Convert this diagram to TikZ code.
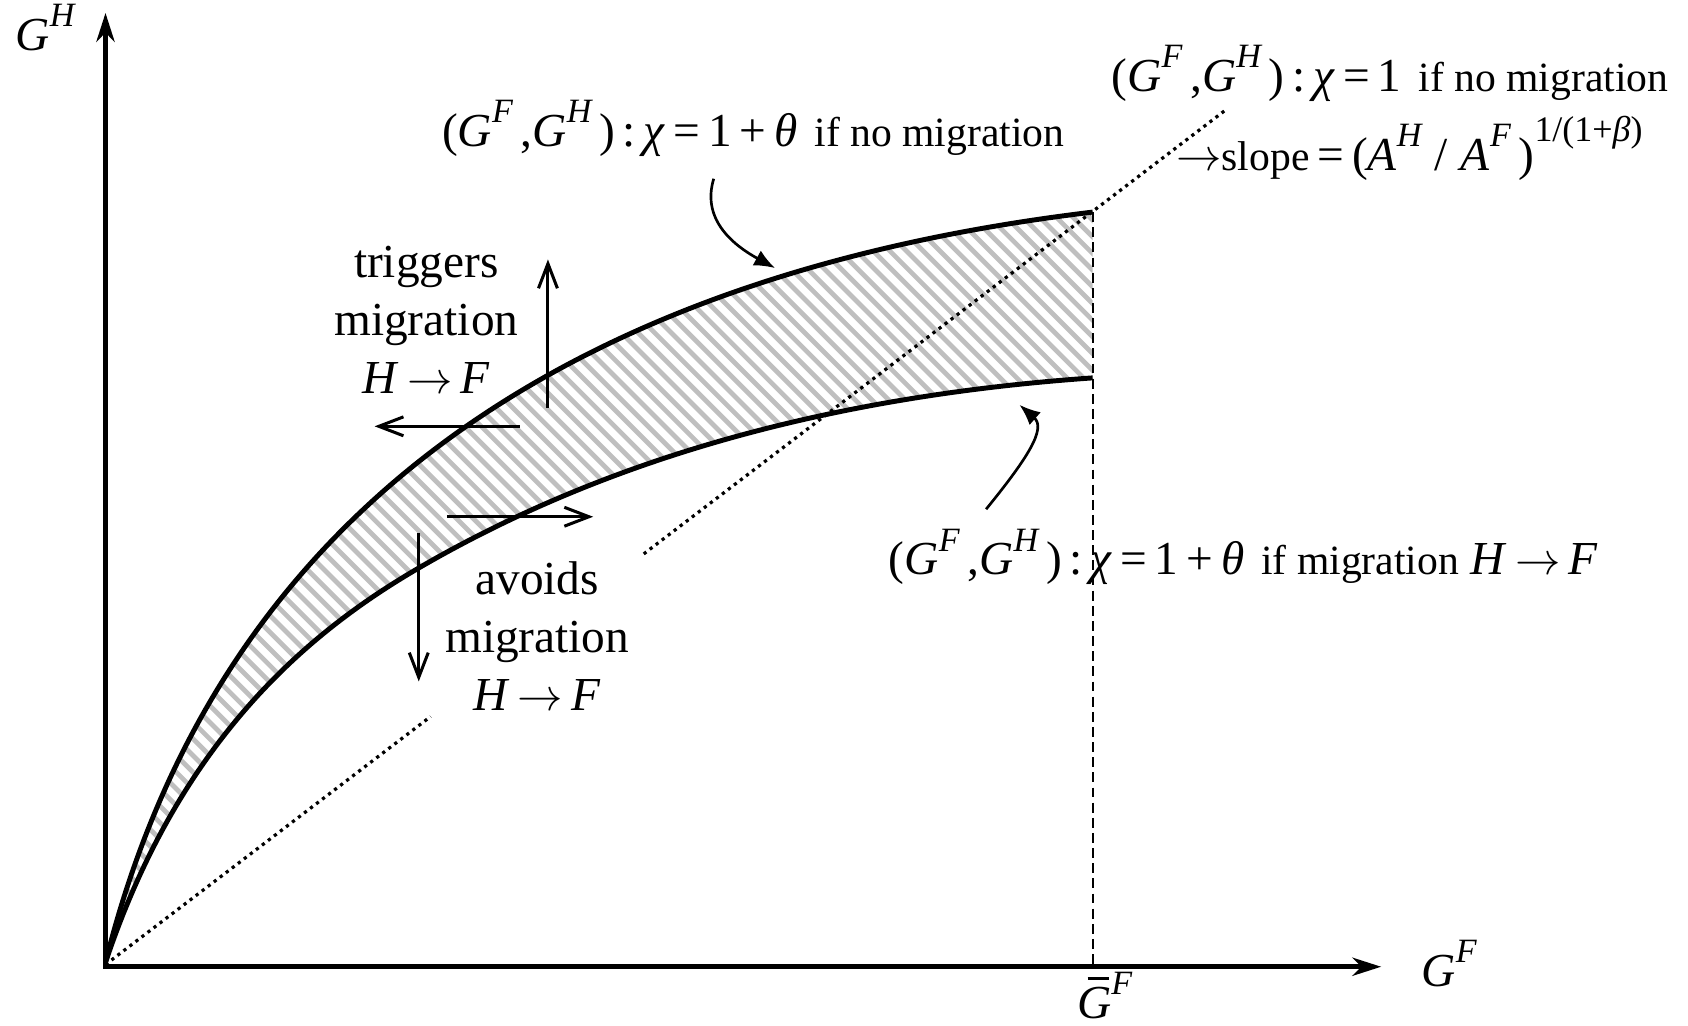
\documentclass[tikz,border=0pt]{standalone}
\usepackage{fontspec}
\setmainfont{Liberation Serif}
\usetikzlibrary{arrows.meta}

% italic symbol and raised italic index
\newcommand{\itl}[1]{\textit{#1}}
\newcommand{\supit}[1]{\raisebox{0.5em}{\fontsize{9}{9}\selectfont\itshape #1}}
\newcommand{\GF}{\itl{G}\supit{F}}
\newcommand{\GH}{\itl{G}\supit{H}}
\newcommand{\Gbar}{\rlap{\hspace{0.22em}\rule[0.82em]{0.45em}{0.065em}}\itl{G}}
\newcommand{\pairGG}{(\GF\,,\GH\,)\,:\,}
\newcommand{\lbltext}[1]{{\fontsize{11}{13}\selectfont #1}}
\newcommand{\toarr}{\,$\rightarrow$\,}

\begin{document}
\begin{tikzpicture}[
  x=0.01cm, y=-0.01cm,
  every node/.style={inner sep=0pt, font=\fontsize{12.5}{15.4}\selectfont},
  axisline/.style={line width=1.25pt, {Stealth[length=7.6pt,width=4.8pt,inset=2.4pt]}-{Stealth[length=7.6pt,width=4.8pt,inset=2.4pt]}},
  bound/.style={line width=1.3pt},
  stripe/.style={line width=1.25pt, black!25},
  hint/.style={line width=0.8pt, -{Straight Barb[length=6.5pt,width=5pt]}},
  callout/.style={line width=0.7pt, -{Latex[length=5.5pt,width=4.5pt]}},
  ray/.style={line width=0.85pt, dash pattern=on 0.85pt off 1.15pt},
  limitline/.style={line width=0.6pt, dash pattern=on 2.6pt off 1.4pt}
]
\useasboundingbox (0,0) rectangle (1568,953);

% Hatched band between the two boundaries
\begin{scope}
  \clip (98,894) .. controls (218,414) and (615,245) .. (1015,197) -- (1015,351)
    .. controls (765,368.5) and (560,428.4) .. (390,527)
    .. controls (290,585) and (168,684) .. (98,894) -- cycle;
  \foreach \k in {-760,-744.5,...,1030}
    \draw[stripe] (\k,150) -- ++(800,800);
\end{scope}

% Ray through the origin (broken at the text)
\draw[ray] (98,896) -- (400,665.6);
\draw[ray] (598,514.5) -- (1140,101);

% Boundaries
\draw[bound] (98,894) .. controls (218,414) and (615,245) .. (1015,197);
\draw[bound] (98,894) .. controls (168,684) and (290,585) .. (390,527)
  .. controls (560,428.4) and (765,368.5) .. (1015,351);
\draw[limitline] (1015,197) -- (1015,898);

% Axes
\draw[axisline] (98,12) -- (98,898) -- (1283,898);
\node[anchor=base west] (ylabel) at (14,47) {\GH};
\node[anchor=base west] (xlabel) at (1320,916) {\GF};
\node[anchor=base west] (gbar) at (1000,946) {\Gbar\supit{F}};

% Labels
\node[anchor=base west] (nomig) at (410,136) {\pairGG\itl{χ}\,=\,1\,+\,\itl{θ}\hspace{4.5pt}\lbltext{if no migration}};
\node[anchor=base west] (nomigone) at (1032,85) {\pairGG\itl{χ}\,=\,1\hspace{4.5pt}\lbltext{if no migration}};
\node[anchor=base west] (slope) at (1092,158) {$\rightarrow$\lbltext{slope}\,=\,(\itl{A}\supit{H}\;/\;\itl{A}\supit{F}\,)\raisebox{0.6em}{\fontsize{9.5}{9.5}\selectfont 1/(1+\itl{β})}};
\node[anchor=base west] (mig) at (825,534) {\pairGG\itl{χ}\,=\,1\,+\,\itl{θ}\hspace{4.5pt}\lbltext{if migration} \itl{H}\toarr\itl{F}};
\node[align=center] (trig) at (396,297) {triggers\\migration\\\itl{H}\toarr\itl{F}};
\node[align=center] (avoid) at (499,591) {avoids\\migration\\\itl{H}\toarr\itl{F}};

% Direction hints
\draw[hint] (509,379) -- (509,241);
\draw[hint] (483,396) -- (348,396);
\draw[hint] (415,480) -- (551,480);
\draw[hint] (389,495) -- (389,633);

% Callouts
\coordinate (nomigtail) at (663,166);
\coordinate (upperhit) at (720,249);
\coordinate (migtail) at (916,473);
\coordinate (lowerhit) at (947,376);
\draw[callout] (nomigtail) .. controls (652,202) and (678,226) .. (upperhit);
\draw[callout] (migtail) .. controls (955,425) and (972,398) .. (lowerhit);
\end{tikzpicture}
\end{document}
